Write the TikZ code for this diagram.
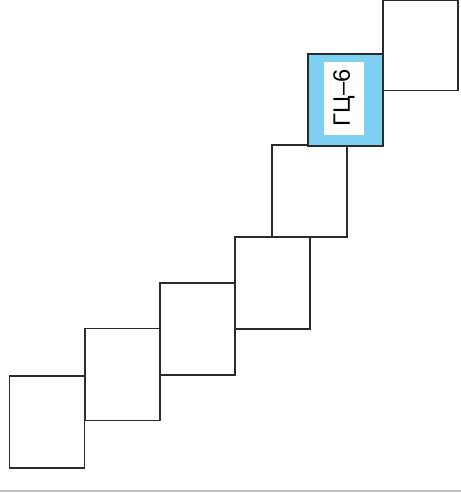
\documentclass[tikz,border=0pt]{standalone}
\usepackage{xcolor}
\usepackage{tikz}
\usepackage{fontspec}
\setmainfont{Liberation Sans}
\definecolor{stairline}{HTML}{2b2b2b}
\definecolor{stairblue}{HTML}{7dd0f2}
\definecolor{pagegray}{HTML}{bdbdbd}

\begin{document}
\begin{tikzpicture}[x=1cm,y=1cm,
  stairbox/.style={draw=stairline,line width=1.1pt,minimum width=1.5cm,minimum height=1.84cm,inner sep=0pt},
  labelbox/.style={fill=white,rotate=90,minimum width=1.46cm,minimum height=0.8cm,inner sep=0pt,font=\fontsize{13.5}{15}\selectfont}]
  \useasboundingbox (0,0) rectangle (9.22,9.86);
  \draw[pagegray,line width=0.8pt] (0,0.04) -- (9.22,0.04);
  \node[stairbox] (b1) at (0.94,1.42) {};
  \node[stairbox] (b2) at (2.45,2.37) {};
  \node[stairbox] (b3) at (3.95,3.28) {};
  \node[stairbox] (b4) at (5.45,4.20) {};
  \node[stairbox] (b5) at (6.19,6.04) {};
  \node[stairbox,fill=stairblue] (b6) at (6.91,7.86) {};
  \node[stairbox,minimum height=1.80cm] (b7) at (8.41,8.95) {};
  \node[labelbox] (gc6) at (6.88,7.90) {ГЦ–6};
\end{tikzpicture}
\end{document}
